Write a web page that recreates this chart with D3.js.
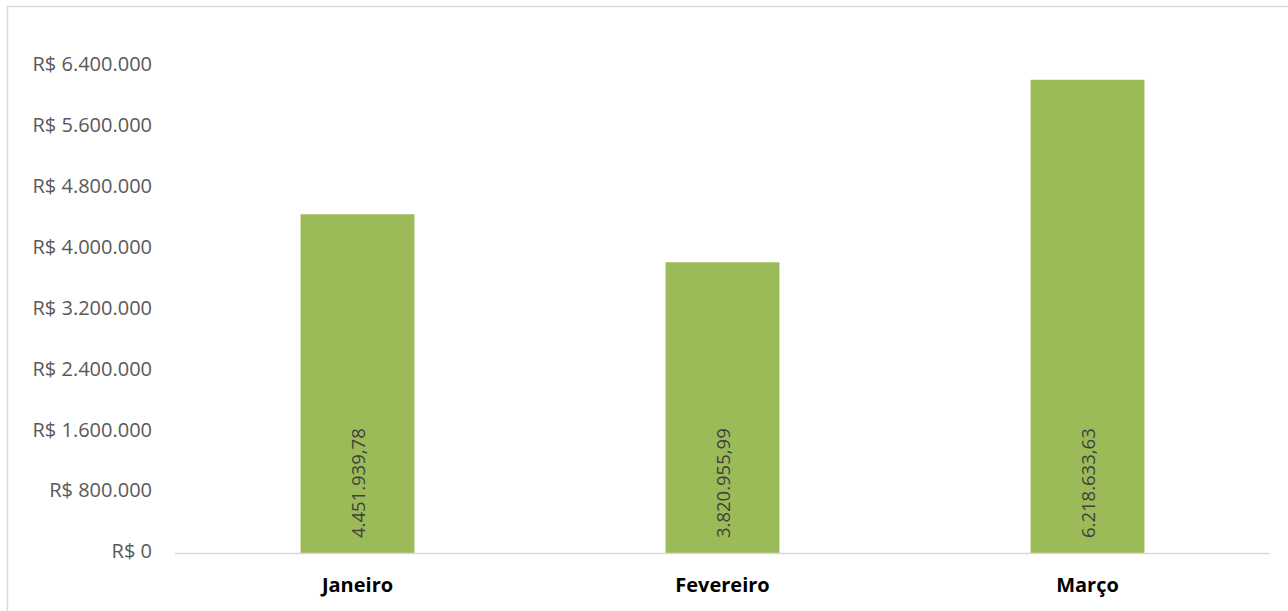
<!DOCTYPE html>
<html lang="pt">
<head>
<meta charset="utf-8">
<title>Faturamento mensal</title>
<script src="https://cdn.jsdelivr.net/npm/d3@7"></script>
<style>
  body { margin: 0; background: #fff; }
  .tick-label { font-family: "Open Sans", sans-serif; font-size: 20px; fill: #595959; text-anchor: end; dominant-baseline: middle; }
  .cat-label { font-family: "Open Sans", sans-serif; font-size: 20px; font-weight: bold; fill: #000; text-anchor: middle; }
  .bar-label { font-family: "Open Sans", sans-serif; font-size: 18.5px; fill: #404040; }
</style>
</head>
<body>
<script>
var months = ["Janeiro", "Fevereiro", "Março"];
var totals = [4451939.78, 3820955.99, 6218633.63];
var yTicks = [0, 800000, 1600000, 2400000, 3200000, 4000000, 4800000, 5600000, 6400000];

var w = 1288, h = 611;
var plotL = 175, plotR = 1270, plotT = 66, plotB = 553;

var br = d3.formatLocale({decimal: ",", thousands: ".", grouping: [3], currency: ["R$ ", ""]});
var fmtTick = br.format("$,.0f");
var fmtVal = br.format(",.2f");

var svg = d3.select("body").append("svg").attr("width", w).attr("height", h);

// chart frame (only left and top edges are visible)
svg.append("rect").attr("x", 7.5).attr("y", 6.5).attr("width", w + 20).attr("height", h + 20)
   .attr("fill", "#fff").attr("stroke", "#d9d9d9").attr("stroke-width", 1.5);

var x = d3.scaleBand().domain(months).range([plotL, plotR]).paddingInner(0.688).paddingOuter(0.344);
var y = d3.scaleLinear().domain([0, 6400000]).range([plotB, plotT]);

// y tick labels
svg.selectAll("text.tick-label").data(yTicks).enter().append("text")
   .attr("class", "tick-label")
   .attr("x", 152)
   .attr("y", function(d) { return y(d); })
   .text(function(d) { return fmtTick(d); });

// bars
svg.selectAll("rect.bar").data(totals).enter().append("rect")
   .attr("class", "bar")
   .attr("x", function(d, i) { return x(months[i]); })
   .attr("y", function(d) { return y(d); })
   .attr("width", x.bandwidth())
   .attr("height", function(d) { return plotB - y(d); })
   .attr("fill", "#9bbb59");

// baseline
svg.append("line").attr("x1", plotL).attr("x2", plotR).attr("y1", plotB + 0.5).attr("y2", plotB + 0.5)
   .attr("stroke", "#d9d9d9").attr("stroke-width", 1.5);

// value labels, rotated inside bars
svg.selectAll("text.bar-label").data(totals).enter().append("text")
   .attr("class", "bar-label")
   .attr("transform", function(d, i) {
       var cx = x(months[i]) + x.bandwidth() / 2 + 7;
       return "translate(" + cx + "," + (plotB - 15) + ") rotate(-90)";
   })
   .text(function(d) { return fmtVal(d); });

// category labels
svg.selectAll("text.cat-label").data(months).enter().append("text")
   .attr("class", "cat-label")
   .attr("x", function(d) { return x(d) + x.bandwidth() / 2; })
   .attr("y", 592)
   .text(function(d) { return d; });
</script>
</body>
</html>
